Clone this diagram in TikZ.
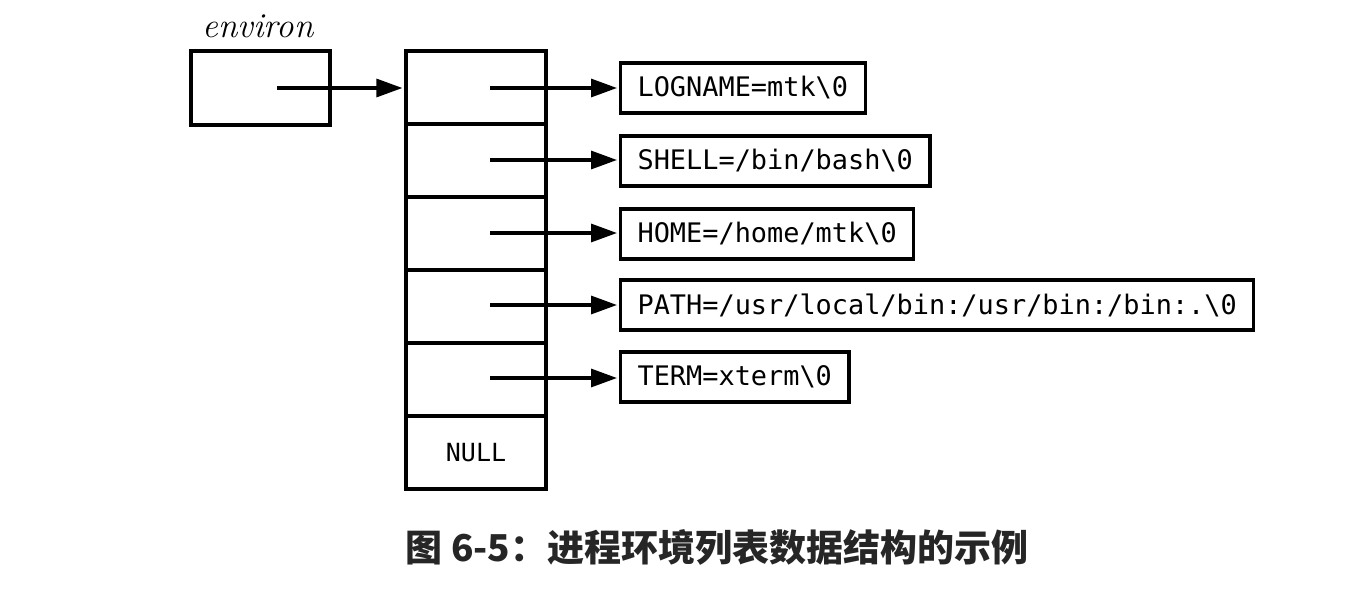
\documentclass[tikz,border=0pt]{standalone}
\usepackage{fontspec}
\newfontfamily\cjk{Noto Sans CJK SC}
\newfontfamily\monof{DejaVu Sans Mono}
\usetikzlibrary{arrows.meta}
\begin{document}
\begin{tikzpicture}[x=1pt,y=-1pt,
  cell/.style={draw, line width=3.2pt, minimum width=140pt, minimum height=73pt, inner sep=0pt},
  strbox/.style={draw, line width=3.2pt, anchor=west, minimum height=50pt, inner xsep=17pt, inner ysep=0pt, font=\monof\fontsize{26.9}{30}\selectfont},
  ptr/.style={line width=3.2pt, -{Triangle[length=26pt,width=18pt]}, shorten >=2pt}]
\useasboundingbox (0,0) rectangle (1356,594);
\node[font=\itshape\fontsize{35}{40}\selectfont] (lab) at (258,26) {environ};
\node[cell, minimum width=139pt, minimum height=74pt] (env) at (260.5,88) {};
\node[cell] (c1) at (476,87.5) {};
\node[cell] (c2) at (476,160.5) {};
\node[cell] (c3) at (476,233.5) {};
\node[cell] (c4) at (476,306.5) {};
\node[cell] (c5) at (476,379.5) {};
\node[cell, font=\monof\fontsize{25}{30}\selectfont] (c6) at (476,452.5) {NULL};
\coordinate (e0) at (277,88);
\coordinate (p1) at (490,88);
\coordinate (p2) at (490,160);
\coordinate (p3) at (490,233);
\coordinate (p4) at (490,305);
\coordinate (p5) at (490,378);
\node[strbox] (s1) at (619,88) {LOGNAME=mtk\textbackslash 0};
\node[strbox] (s2) at (619,161) {SHELL=/bin/bash\textbackslash 0};
\node[strbox] (s3) at (619,234) {HOME=/home/mtk\textbackslash 0};
\node[strbox] (s4) at (619,305) {PATH=/usr/local/bin:/usr/bin:/bin:.\textbackslash 0};
\node[strbox] (s5) at (619,377) {TERM=xterm\textbackslash 0};
\draw[ptr] (e0) -- (e0 -| c1.west);
\draw[ptr] (p1) -- (p1 -| s1.west);
\draw[ptr] (p2) -- (p2 -| s2.west);
\draw[ptr] (p3) -- (p3 -| s3.west);
\draw[ptr] (p4) -- (p4 -| s4.west);
\draw[ptr] (p5) -- (p5 -| s5.west);
\node[font=\cjk\bfseries\fontsize{37}{42}\selectfont, text=black!85] (cap) at (717,547) {图 6-5：进程环境列表数据结构的示例};
\end{tikzpicture}
\end{document}
